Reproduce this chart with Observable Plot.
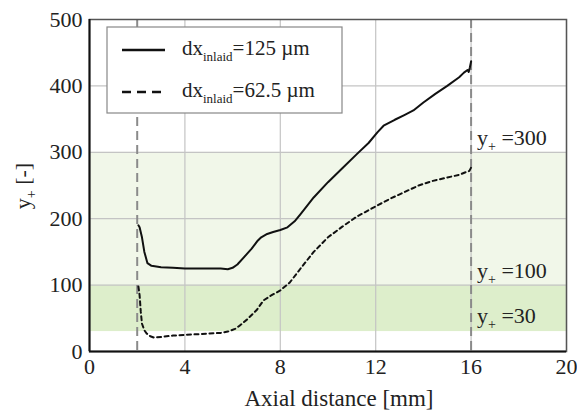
<!DOCTYPE html>
<html><head><meta charset="utf-8">
<script src="https://cdn.jsdelivr.net/npm/d3@7"></script>
<script src="https://cdn.jsdelivr.net/npm/@observablehq/plot@0.6"></script>
<style>
body{margin:0;background:#fff;font-family:"Liberation Serif",Tinos,"Times New Roman",serif}
</style>
</head><body><div id="chart"></div>
<script>
// dx_inlaid = 125 um (solid)
const solidX=[2.05,2.1,2.2,2.3,2.43,2.6,2.8,3,3.5,4,4.5,5,5.5,5.8,6,6.2,6.5,6.8,7.03,7.2,7.45,7.7,8,8.3,8.6,8.85,9.4,10,10.6,11.23,11.7,12.07,12.33,12.8,13.2,13.58,14,14.5,15,15.5,15.7,15.85,15.9,15.95,16.0];
const solidY=[190,187,172,150,133,129,128,127,126,125,125,125,125,124,126,131,143,155,166,172,177,180,183,187,196,207,232,255,276,298,314,330,340,349,356,363,375,388,400,413,420,424,421,428,437];
// dx_inlaid = 62.5 um (dashed)
const dashX=[2.05,2.1,2.15,2.2,2.3,2.4,2.55,2.7,3,3.5,4,4.5,5,5.5,5.8,6.1,6.3,6.6,7,7.3,7.6,8,8.4,8.85,9.4,10,10.6,11.2,12.07,12.6,13.2,13.8,14.4,15,15.5,15.77,15.93,16.0];
const dashY=[98,85,60,42,32,27,23,21,22,24,25,26,27,28,30,34,39,48,62,77,84,92,104,125,150,172,188,203,220,230,240,250,257,262,266,270,272,277];

const xTicks=[0,4,8,12,16,20];
const yTicks=[0,100,200,300,400,500];
const bandLow=[{y1:30,y2:100}];
const bandHigh=[{y1:100,y2:300}];
const inletLines=[2,16];
const annotations=[{x:16.27,y:310,value:"300"},{x:16.27,y:110,value:"100"},{x:16.27,y:42,value:"30"}];
const legendLabels=[{value:"125 \u00B5m",dash:null},{value:"62.5 \u00B5m",dash:"9,6"}];

const solid=solidX.map((x,i)=>({x,y:solidY[i]}));
const dashed=dashX.map((x,i)=>({x,y:dashY[i]}));
const FONT='"Liberation Serif", Tinos, "Times New Roman", serif';

const plot=Plot.plot({
  width:577,height:412,
  marginLeft:89,marginRight:11,marginTop:19,marginBottom:61,
  x:{domain:[0,20],label:null},
  y:{domain:[0,500],label:null},
  marks:[
    Plot.rectY(bandHigh,{y1:"y1",y2:"y2",fill:"#f1f7e9"}),
    Plot.rectY(bandLow,{y1:"y1",y2:"y2",fill:"#ddeecb"}),
    Plot.gridX(xTicks,{stroke:"#c4c4c4",strokeOpacity:1,strokeWidth:1.2}),
    Plot.gridY(yTicks,{stroke:"#c4c4c4",strokeOpacity:1,strokeWidth:1.2}),
    Plot.ruleX(inletLines,{stroke:"#8a8a8a",strokeWidth:2,strokeDasharray:"9,5"}),
    Plot.line(solid,{x:"x",y:"y",stroke:"#111",strokeWidth:2}),
    Plot.line(dashed,{x:"x",y:"y",stroke:"#111",strokeWidth:2,strokeDasharray:"4,3.5"}),
    Plot.frame({stroke:"#555",strokeWidth:1.5}),
    Plot.ruleX([0],{stroke:"#111",strokeWidth:2}),
    Plot.ruleY([0],{stroke:"#111",strokeWidth:2}),
    Plot.axisY(yTicks,{tickSize:0,tickPadding:7,fontSize:22,fill:"#222",fontFamily:"Liberation Serif"}),
    Plot.axisX(xTicks,{tickSize:0,tickPadding:7,fontSize:22,fill:"#222",fontFamily:"Liberation Serif"})
  ]
});
document.getElementById("chart").appendChild(plot);

const svg=d3.select(plot);
svg.attr("font-family","Liberation Serif");
const sx=plot.scale("x"), sy=plot.scale("y");

function subText(g,x,y,base,sub,rest,size,subSize,anchor){
  const t=g.append("text").attr("x",x).attr("y",y).attr("font-size",size).attr("fill","#222")
    .attr("font-family","Liberation Serif").attr("text-anchor",anchor||"start");
  t.append("tspan").text(base);
  t.append("tspan").attr("font-size",subSize).attr("dy",size*0.28).text(sub);
  t.append("tspan").attr("dy",-size*0.28).text(rest);
  return t;
}

// annotations y+ = ...
const ann=svg.append("g");
annotations.forEach(a=>{
  subText(ann,sx.apply(a.x),sy.apply(a.y),"y","+"," ="+a.value,22,14);
});

// axis labels
svg.append("text").attr("x",339).attr("y",406).attr("text-anchor","middle")
  .attr("font-family","Liberation Serif")
  .attr("font-size",23).attr("fill","#222").text("Axial distance [mm]");
const yl=svg.append("g").attr("transform","translate(30,186) rotate(-90)");
subText(yl,0,0,"y","+"," [-]",22,14,"middle");

// legend
const lg=svg.append("g");
lg.append("rect").attr("x",107).attr("y",27).attr("width",235).attr("height",86)
  .attr("fill","#fff").attr("stroke","#888").attr("stroke-width",1.2);
legendLabels.forEach((d,i)=>{
  const cy=50+i*42;
  lg.append("line").attr("x1",122).attr("x2",165).attr("y1",cy).attr("y2",cy)
    .attr("stroke","#111").attr("stroke-width",2.5).attr("stroke-dasharray",d.dash);
  subText(lg,182,cy+5,"dx","inlaid","="+d.value,21,13);
});

function applyFont(){
  svg.selectAll("text").style("font-family",FONT);
}
applyFont();
if(document.fonts&&document.fonts.load){
  document.fonts.load('22px "Liberation Serif"').then(()=>{applyFont();requestAnimationFrame(applyFont);}).catch(()=>{});
}
</script>
</body></html>
